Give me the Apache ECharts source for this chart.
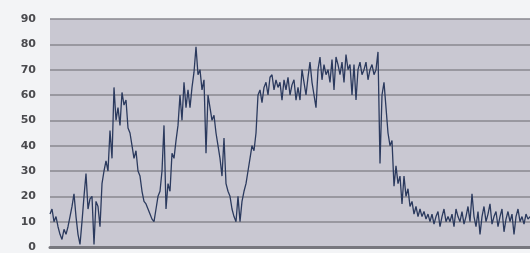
<!DOCTYPE html>
<html>
<head>
<meta charset="utf-8">
<script src="https://cdn.jsdelivr.net/npm/echarts@6/dist/echarts.min.js"></script>
<style>
html,body{margin:0;padding:0;background:#f3f4f6;}
#chart{width:530px;height:253px;}
</style>
</head>
<body>
<div id="chart"></div>
<script>
// values, one every ~2px from left to right
var seg1 = [13,15,10,12,8,5,3,7,5,8,12,16,21,12,5,1,10,20,29,15,19,20,1,18,16];
var seg2 = [8,25,30,34,30,46,35,63,50,55,48,61,56,58,47,45,40,35,38,30,28,22,18,17,15];
var seg3 = [13,11,10,15,20,22,30,48,15,25,22,37,35,42,48,60,50,65,55,62,55,63,69,79,68];
var seg4 = [70,62,66,37,60,55,50,52,45,40,35,28,43,25,22,20,15,12,10,20,10,18,22,25,30];
var seg5 = [35,40,38,45,60,62,57,63,65,60,67,68,62,66,63,65,58,66,62,67,60,64,66,58,63];
var seg6 = [58,70,65,60,67,73,65,60,55,70,75,66,72,68,70,65,74,62,75,72,68,73,65,76,70];
var seg7 = [72,60,72,58,70,73,68,70,73,66,70,72,68,70,77,33,60,65,55,45,40,42,24,32,25];
var seg8 = [28,17,28,20,23,16,18,13,16,12,15,12,14,11,13,10,13,9,12,14,8,12,15,10,12];
var seg9 = [10,13,8,15,12,10,14,9,12,16,10,21,12,8,14,5,12,16,10,13,17,9,12,14,8,12,15,6,11,14,10,13,5,12,15,10,12,9,13,11,12];
var yTicks = [0,10,20,30,40,50,60,70,80,90];

var values = [].concat(seg1,seg2,seg3,seg4,seg5,seg6,seg7,seg8,seg9);
var cats = values.map(function(v,i){ return i; });

var chart = echarts.init(document.getElementById('chart'));
var option = {
    animation: false,
    backgroundColor: '#f3f4f6',
    grid: {
        left: 50, right: 0, top: 19, bottom: 6,
        show: true,
        backgroundColor: '#c9c8d2',
        borderWidth: 0
    },
    xAxis: {
        type: 'category',
        data: cats,
        boundaryGap: false,
        axisLine: {show: true, lineStyle: {color: '#77777e', width: 3}},
        axisTick: {show: false},
        axisLabel: {show: false},
        splitLine: {show: false}
    },
    yAxis: {
        type: 'value',
        min: yTicks[0],
        max: yTicks[yTicks.length-1],
        interval: 10,
        axisLine: {show: false},
        axisTick: {show: false},
        axisLabel: {
            margin: 14,
            color: '#4a4a4e',
            fontSize: 11,
            fontWeight: 'bold',
            fontFamily: 'DejaVu Sans'
        },
        splitLine: {lineStyle: {color: '#88888f', width: 1.5}}
    },
    series: [{
        type: 'line',
        data: values,
        symbol: 'none',
        lineStyle: {color: '#2b3a5e', width: 1.3}
    }]
};
chart.setOption(option);
window.onresize = chart.resize;
</script>
</body>
</html>
